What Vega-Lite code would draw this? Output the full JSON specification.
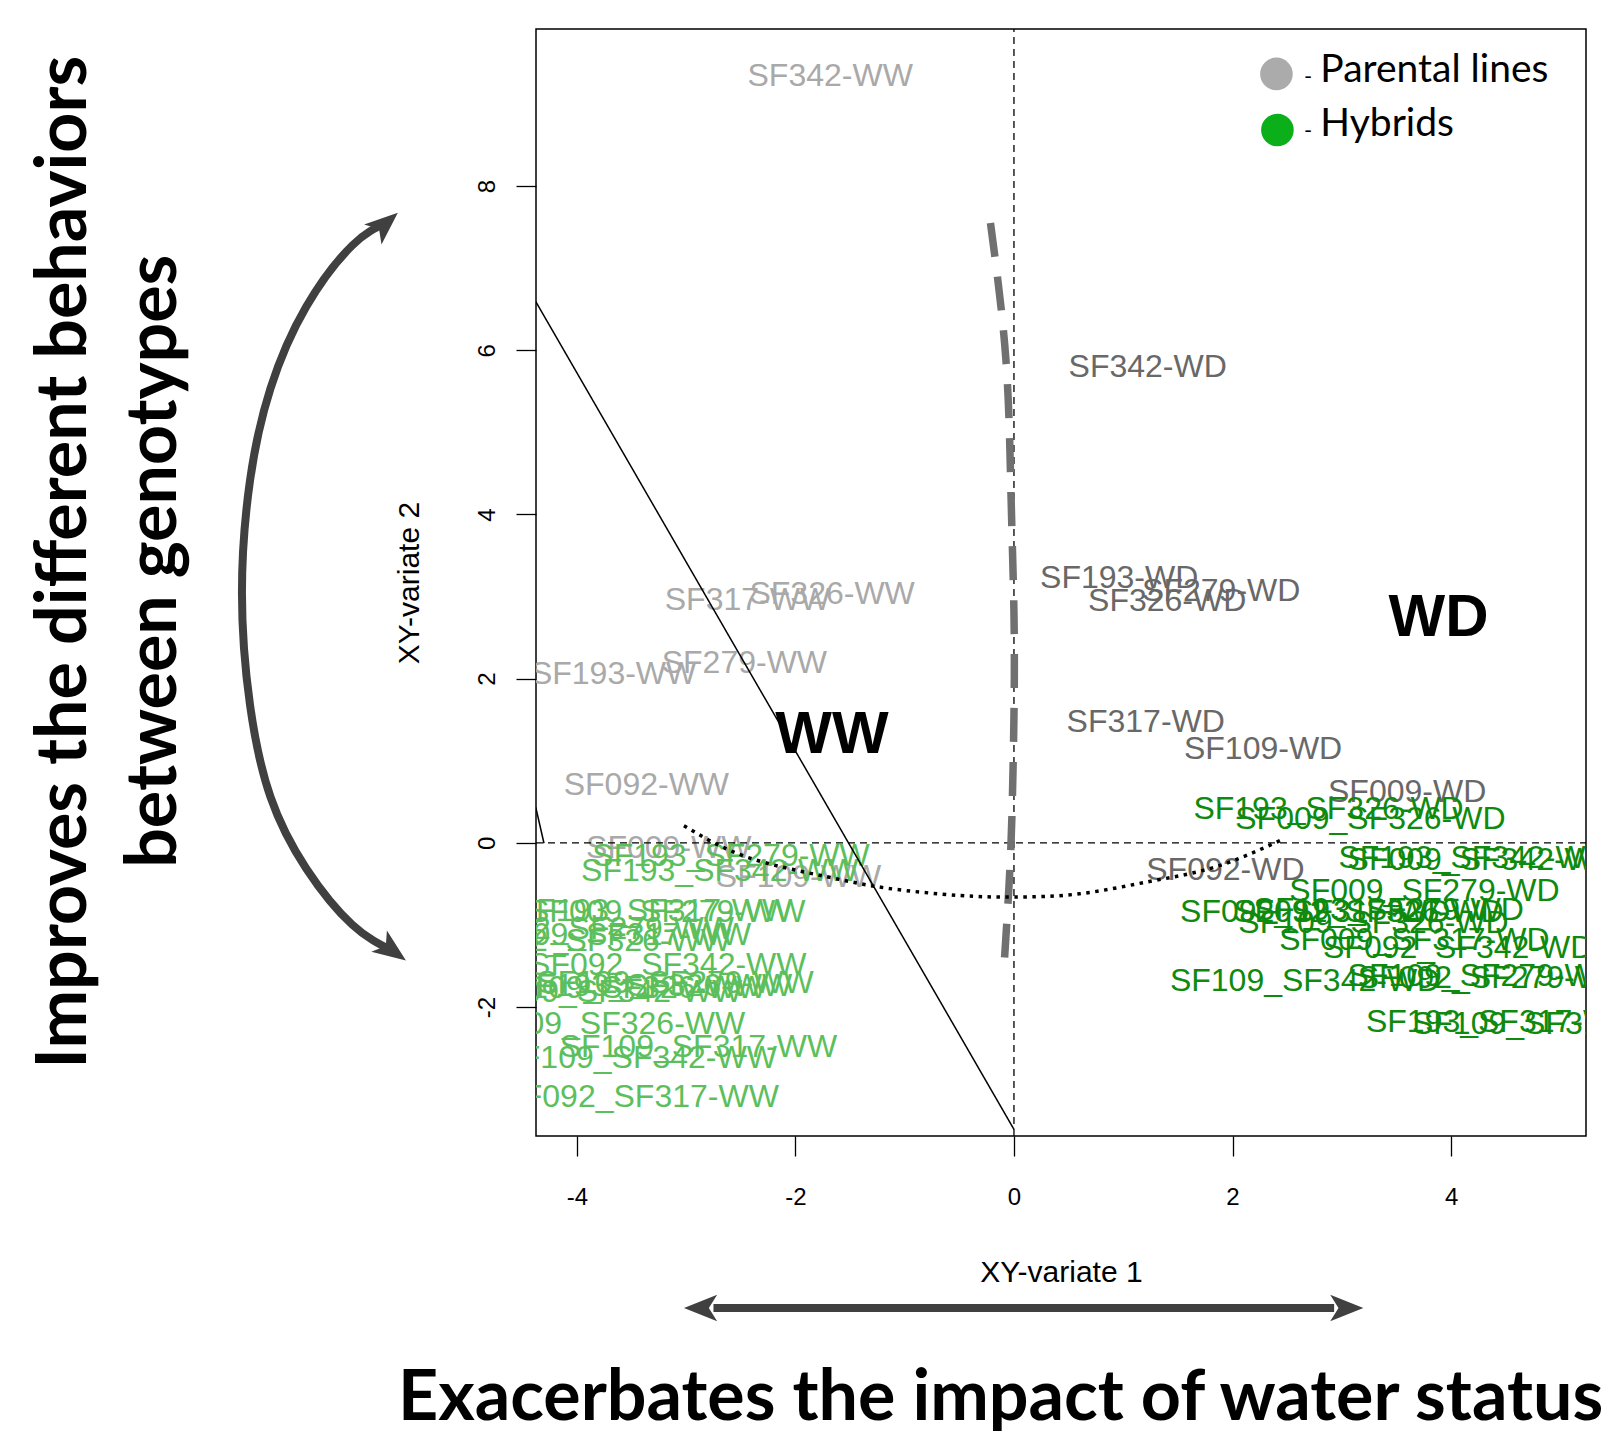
{
  "$schema": "https://vega.github.io/schema/vega-lite/v6.json",
  "width": 1050,
  "height": 1107,
  "autosize": {"type": "none"},
  "padding": {"left": 536, "top": 29, "right": 16, "bottom": 295},
  "background": "white",
  "config": {"view": {"stroke": "black", "strokeWidth": 1.5}},
  "datasets": {
    "labels": [
      {"label": "SF342-WW", "x": -1.682, "y": 9.341, "g": "pWW"},
      {"label": "SF326-WW", "x": -1.664, "y": 3.035, "g": "pWW"},
      {"label": "SF317-WW", "x": -2.439, "y": 2.96, "g": "pWW"},
      {"label": "SF279-WW", "x": -2.467, "y": 2.189, "g": "pWW"},
      {"label": "SF193-WW", "x": -3.664, "y": 2.052, "g": "pWW"},
      {"label": "SF092-WW", "x": -3.364, "y": 0.709, "g": "pWW"},
      {"label": "SF009-WW", "x": -3.159, "y": -0.062, "g": "pWW"},
      {"label": "SF109-WW", "x": -1.972, "y": -0.41, "g": "pWW"},
      {"label": "SF342-WD", "x": 1.224, "y": 5.796, "g": "pWD"},
      {"label": "SF193-WD", "x": 0.963, "y": 3.221, "g": "pWD"},
      {"label": "SF279-WD", "x": 1.897, "y": 3.072, "g": "pWD"},
      {"label": "SF326-WD", "x": 1.402, "y": 2.948, "g": "pWD"},
      {"label": "SF317-WD", "x": 1.206, "y": 1.468, "g": "pWD"},
      {"label": "SF109-WD", "x": 2.28, "y": 1.144, "g": "pWD"},
      {"label": "SF009-WD", "x": 3.598, "y": 0.622, "g": "pWD"},
      {"label": "SF092-WD", "x": 1.935, "y": -0.336, "g": "pWD"},
      {"label": "SF193_SF279-WW", "x": -2.589, "y": -0.162, "g": "hWW"},
      {"label": "SF193_SF342-WW", "x": -2.692, "y": -0.348, "g": "hWW"},
      {"label": "SF009_SF279-WW", "x": -3.178, "y": -0.846, "g": "hWW"},
      {"label": "SF193_SF317-WW", "x": -3.299, "y": -0.833, "g": "hWW"},
      {"label": "SF092_SF279-WW", "x": -3.832, "y": -1.045, "g": "hWW"},
      {"label": "SF009_SF317-WW", "x": -3.673, "y": -1.119, "g": "hWW"},
      {"label": "SF092_SF326-WW", "x": -3.86, "y": -1.194, "g": "hWW"},
      {"label": "SF092_SF342-WW", "x": -3.168, "y": -1.493, "g": "hWW"},
      {"label": "SF109_SF279-WW", "x": -3.103, "y": -1.704, "g": "hWW"},
      {"label": "SF193_SF326-WW", "x": -3.299, "y": -1.741, "g": "hWW"},
      {"label": "SF109_SF326-WW", "x": -3.533, "y": -1.766, "g": "hWW"},
      {"label": "SF009_SF342-WW", "x": -3.757, "y": -1.816, "g": "hWW"},
      {"label": "SF009_SF326-WW", "x": -3.729, "y": -2.201, "g": "hWW"},
      {"label": "SF109_SF317-WW", "x": -2.888, "y": -2.488, "g": "hWW"},
      {"label": "SF109_SF342-WW", "x": -3.439, "y": -2.624, "g": "hWW"},
      {"label": "SF092_SF317-WW", "x": -3.421, "y": -3.097, "g": "hWW"},
      {"label": "SF193_SF326-WD", "x": 2.879, "y": 0.41, "g": "hWD"},
      {"label": "SF009_SF326-WD", "x": 3.262, "y": 0.286, "g": "hWD"},
      {"label": "SF193_SF342-WD", "x": 4.206, "y": -0.187, "g": "hWD"},
      {"label": "SF009_SF342-WD", "x": 4.29, "y": -0.211, "g": "hWD"},
      {"label": "SF009_SF279-WD", "x": 3.757, "y": -0.585, "g": "hWD"},
      {"label": "SF092_SF317-WD", "x": 2.757, "y": -0.846, "g": "hWD"},
      {"label": "SF092_SF326-WD", "x": 3.243, "y": -0.846, "g": "hWD"},
      {"label": "SF193_SF279-WD", "x": 3.43, "y": -0.821, "g": "hWD"},
      {"label": "SF109_SF326-WD", "x": 3.29, "y": -0.97, "g": "hWD"},
      {"label": "SF009_SF317-WD", "x": 3.664, "y": -1.182, "g": "hWD"},
      {"label": "SF092_SF342-WD", "x": 4.065, "y": -1.281, "g": "hWD"},
      {"label": "SF109_SF342-WD", "x": 2.664, "y": -1.679, "g": "hWD"},
      {"label": "SF109_SF279-WD", "x": 4.29, "y": -1.617, "g": "hWD"},
      {"label": "SF092_SF279-WD", "x": 4.383, "y": -1.642, "g": "hWD"},
      {"label": "SF193_SF317-WD", "x": 4.458, "y": -2.177, "g": "hWD"},
      {"label": "SF109_SF317-WD", "x": 4.879, "y": -2.201, "g": "hWD"}
    ],
    "vzero": [{"x": 0, "y": -3.57, "y2": 9.913}],
    "hzero": [{"x": -4.374, "x2": 5.235, "y": 0}],
    "solid": [
      {"seg": "a", "x": -4.376, "y": 6.592},
      {"seg": "a", "x": 0, "y": -3.488},
      {"seg": "b", "x": -4.376, "y": 0.432},
      {"seg": "b", "x": -4.301, "y": -0.004}
    ],
    "greycurve": [
      {"x": -0.215, "y": 7.55},
      {"x": -0.075, "y": 5.91},
      {"x": -0.028, "y": 4.29},
      {"x": 0.0, "y": 2.8},
      {"x": 0.0, "y": 1.55},
      {"x": -0.019, "y": 0.31},
      {"x": -0.047, "y": -0.56},
      {"x": -0.093, "y": -1.55}
    ],
    "dotted": [
      {"x": -3.02, "y": 0.21},
      {"x": -2.45, "y": -0.17},
      {"x": -1.72, "y": -0.41},
      {"x": -1.17, "y": -0.55},
      {"x": -0.5, "y": -0.64},
      {"x": 0.0, "y": -0.66},
      {"x": 0.6, "y": -0.62},
      {"x": 1.24, "y": -0.47},
      {"x": 1.85, "y": -0.29},
      {"x": 2.47, "y": 0.05}
    ],
    "zones": [
      {"t": "WW", "x": -1.666, "y": 1.091},
      {"t": "WD", "x": 3.886, "y": 2.523}
    ],
    "legendDots": [
      {"k": "Parental lines", "x": 2.402, "y": 9.366},
      {"k": "Hybrids", "x": 2.411, "y": 8.682}
    ],
    "legendDash": [
      {"t": "-", "x": 2.692, "y": 9.328},
      {"t": "-", "x": 2.692, "y": 8.669}
    ],
    "legendText": [
      {"t": "Parental lines", "x": 2.804, "y": 9.415},
      {"t": "Hybrids", "x": 2.804, "y": 8.756}
    ],
    "arc": [
      {"x": -5.753, "y": 7.542},
      {"x": -6.056, "y": 7.276},
      {"x": -6.477, "y": 6.53},
      {"x": -6.804, "y": 5.535},
      {"x": -6.991, "y": 4.415},
      {"x": -7.065, "y": 3.047},
      {"x": -6.991, "y": 1.679},
      {"x": -6.804, "y": 0.56},
      {"x": -6.477, "y": -0.311},
      {"x": -6.056, "y": -0.995},
      {"x": -5.687, "y": -1.315}
    ],
    "arcTop": [{"x": -5.753, "y": 7.542}],
    "arcBottom": [{"x": -5.687, "y": -1.315}],
    "shaft": [
      {"x": -2.75, "y": -5.666},
      {"x": 2.93, "y": -5.666}
    ],
    "headLeft": [{"x": -2.868, "y": -5.666}],
    "headRight": [{"x": 3.046, "y": -5.666}],
    "sideText": [
      {"t": "Improves the different behaviors", "x": -8.492, "y": 3.418},
      {"t": "between genotypes", "x": -7.667, "y": 3.43}
    ],
    "bottomText": [
      {"t": "Exacerbates the impact of water status", "x": -5.638, "y": -7.033}
    ]
  },
  "encoding": {
    "x": {
      "field": "x",
      "type": "quantitative",
      "scale": {"domain": [-4.374, 5.235], "nice": false, "zero": false},
      "axis": {
        "title": "XY-variate 1",
        "values": [-4, -2, 0, 2, 4],
        "labelExpr": "'' + datum.value",
        "grid": false,
        "domain": false,
        "tickSize": 20,
        "tickColor": "black",
        "tickWidth": 1.3,
        "labelFont": "Liberation Sans",
        "labelFontSize": 24,
        "labelColor": "black",
        "labelPadding": 41,
        "labelBaseline": "middle",
        "labelFlush": false,
        "labelOverlap": false,
        "titleFont": "Liberation Sans",
        "titleFontSize": 30,
        "titleFontWeight": "normal",
        "titleColor": "black",
        "titleY": 136,
        "titleBaseline": "middle"
      }
    },
    "y": {
      "field": "y",
      "type": "quantitative",
      "scale": {"domain": [-3.57, 9.913], "nice": false, "zero": false},
      "axis": {
        "title": "XY-variate 2",
        "values": [-2, 0, 2, 4, 6, 8],
        "labelExpr": "'' + datum.value",
        "grid": false,
        "domain": false,
        "tickSize": 20,
        "tickColor": "black",
        "tickWidth": 1.3,
        "labelFont": "Liberation Sans",
        "labelFontSize": 24,
        "labelColor": "black",
        "labelAngle": 270,
        "labelAlign": "center",
        "labelBaseline": "middle",
        "labelPadding": 29,
        "labelFlush": false,
        "labelOverlap": false,
        "titleFont": "Liberation Sans",
        "titleFontSize": 30,
        "titleFontWeight": "normal",
        "titleColor": "black",
        "titleAngle": 270,
        "titleX": -127,
        "titleBaseline": "middle"
      }
    }
  },
  "layer": [
    {
      "data": {"name": "labels"},
      "mark": {"type": "text", "font": "Liberation Sans", "fontSize": 32, "align": "center", "baseline": "middle", "clip": true},
      "encoding": {
        "text": {"field": "label"},
        "color": {
          "field": "g",
          "type": "nominal",
          "scale": {"domain": ["pWW", "pWD", "hWW", "hWD"], "range": ["#a9a9a9", "#686868", "#5cbf5c", "#0e8a0e"]},
          "legend": null
        }
      }
    },
    {
      "data": {"name": "vzero"},
      "mark": {"type": "rule", "color": "black", "strokeWidth": 1.3, "strokeDash": [7, 5]},
      "encoding": {"y2": {"field": "y2"}}
    },
    {
      "data": {"name": "hzero"},
      "mark": {"type": "rule", "color": "black", "strokeWidth": 1.3, "strokeDash": [7, 5]},
      "encoding": {"x2": {"field": "x2"}}
    },
    {
      "data": {"name": "solid"},
      "mark": {"type": "line", "color": "black", "strokeWidth": 1.5, "clip": true},
      "encoding": {"detail": {"field": "seg"}}
    },
    {
      "data": {"name": "greycurve"},
      "mark": {"type": "line", "color": "#707070", "strokeWidth": 7.5, "strokeDash": [34, 20], "interpolate": "natural", "clip": true},
      "encoding": {"order": {"field": "y", "sort": "descending"}}
    },
    {
      "data": {"name": "dotted"},
      "mark": {"type": "line", "color": "black", "strokeWidth": 3.5, "strokeDash": [3.5, 5.5], "interpolate": "natural", "clip": true},
      "encoding": {}
    },
    {
      "data": {"name": "zones"},
      "mark": {"type": "text", "font": "Liberation Sans", "fontWeight": "bold", "fontSize": 60, "align": "center", "baseline": "alphabetic", "color": "black"},
      "encoding": {"text": {"field": "t"}}
    },
    {
      "data": {"name": "legendDots"},
      "mark": {"type": "point", "shape": "circle", "filled": true, "size": 1063, "opacity": 1},
      "encoding": {
        "fill": {
          "field": "k",
          "type": "nominal",
          "scale": {"domain": ["Parental lines", "Hybrids"], "range": ["#ababab", "#0aaf1a"]},
          "legend": null
        }
      }
    },
    {
      "data": {"name": "legendDash"},
      "mark": {"type": "text", "font": "Lato", "fontSize": 22, "align": "center", "baseline": "middle", "color": "black"},
      "encoding": {"text": {"field": "t"}}
    },
    {
      "data": {"name": "legendText"},
      "mark": {"type": "text", "font": "Lato", "fontSize": 39, "align": "left", "baseline": "middle", "color": "black"},
      "encoding": {"text": {"field": "t"}}
    },
    {
      "data": {"name": "arc"},
      "mark": {"type": "line", "color": "#404040", "strokeWidth": 8, "interpolate": "natural"},
      "encoding": {"order": {"field": "y", "sort": "descending"}}
    },
    {
      "data": {"name": "arcTop"},
      "mark": {"type": "point", "shape": "M0,-1L0.8,1L0,0.5L-0.8,1Z", "filled": true, "color": "#404040", "opacity": 1, "size": 1100, "angle": 49}
    },
    {
      "data": {"name": "arcBottom"},
      "mark": {"type": "point", "shape": "M0,-1L0.8,1L0,0.5L-0.8,1Z", "filled": true, "color": "#404040", "opacity": 1, "size": 1100, "angle": 126}
    },
    {
      "data": {"name": "shaft"},
      "mark": {"type": "line", "color": "#404040", "strokeWidth": 8},
      "encoding": {}
    },
    {
      "data": {"name": "headLeft"},
      "mark": {"type": "point", "shape": "M0,-1L0.8,1L0,0.5L-0.8,1Z", "filled": true, "color": "#404040", "opacity": 1, "size": 1100, "angle": 270}
    },
    {
      "data": {"name": "headRight"},
      "mark": {"type": "point", "shape": "M0,-1L0.8,1L0,0.5L-0.8,1Z", "filled": true, "color": "#404040", "opacity": 1, "size": 1100, "angle": 90}
    },
    {
      "data": {"name": "sideText"},
      "mark": {"type": "text", "font": "Lato", "fontWeight": "bold", "fontSize": 70, "angle": 270, "align": "center", "baseline": "alphabetic", "color": "black"},
      "encoding": {"text": {"field": "t"}}
    },
    {
      "data": {"name": "bottomText"},
      "mark": {"type": "text", "font": "Lato", "fontWeight": "bold", "fontSize": 70, "align": "left", "baseline": "alphabetic", "color": "black"},
      "encoding": {"text": {"field": "t"}}
    }
  ]
}
